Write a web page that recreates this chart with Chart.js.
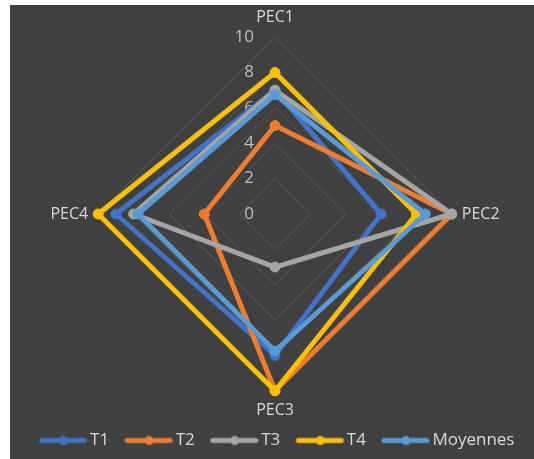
<!DOCTYPE html>
<html>
<head>
<meta charset="utf-8">
<script src="https://cdn.jsdelivr.net/npm/chart.js@4/dist/chart.umd.min.js"></script>
<style>
  html, body { margin: 0; padding: 0; background: #ffffff; }
  #wrap { position: absolute; left: 10px; top: 5px; width: 524px; height: 454px; background: #404040; }
  canvas { display: block; }
</style>
</head>
<body>
<div id="wrap"><canvas id="chart" width="524" height="454"></canvas></div>
<script>
// axes and series
var categories = ['PEC1', 'PEC2', 'PEC3', 'PEC4'];
var t1 = [7, 6, 8, 9];
var t2 = [5, 10, 10, 4];
var t3 = [7, 10, 3, 8];
var t4 = [8, 8, 10, 10];
var moyennes = [6.75, 8.5, 7.75, 7.75];
var tickValues = [0, 2, 4, 6, 8, 10];

var seriesNames = ['T1', 'T2', 'T3', 'T4', 'Moyennes'];
var seriesData = [t1, t2, t3, t4, moyennes];
var seriesColors = ['#4472C4', '#ED7D31', '#A5A5A5', '#FFC000', '#5B9BD5'];

var FONT = "'Open Sans', 'Liberation Sans', sans-serif";

// line + dot icon for the legend; wider than the legend box so the line
// sits close to its text and the spacing goes between the items
function legendIcon(color) {
    var c = document.createElement('canvas');
    c.width = 64;
    c.height = 12;
    var g = c.getContext('2d');
    g.strokeStyle = color;
    g.lineWidth = 5;
    g.lineCap = 'round';
    g.beginPath();
    g.moveTo(15, 6);
    g.lineTo(58, 6);
    g.stroke();
    g.fillStyle = color;
    g.beginPath();
    g.arc(37, 6, 4.5, 0, Math.PI * 2);
    g.fill();
    return c;
}

// Excel-style value labels to the left of the vertical axis, under the series
var tickLabelPlugin = {
    id: 'tickLabels',
    beforeDatasetsDraw: function (chart) {
        var scale = chart.scales.r;
        var ctx = chart.ctx;
        ctx.save();
        ctx.font = '17px ' + FONT;
        ctx.fillStyle = '#bfbfbf';
        ctx.textAlign = 'right';
        ctx.textBaseline = 'middle';
        tickValues.forEach(function (v) {
            var p = scale.getPointPositionForValue(0, v);
            ctx.fillText(String(v), p.x - 21, p.y);
        });
        ctx.restore();
    }
};

var datasets = seriesNames.map(function (name, i) {
    return {
        label: name,
        data: seriesData[i],
        borderColor: seriesColors[i],
        backgroundColor: seriesColors[i],
        pointBackgroundColor: seriesColors[i],
        pointBorderColor: seriesColors[i],
        borderWidth: 5,
        pointRadius: 5,
        pointBorderWidth: 1,
        borderJoinStyle: 'round',
        fill: false,
        order: seriesNames.length - i
    };
});

new Chart(document.getElementById('chart'), {
    type: 'radar',
    data: { labels: categories, datasets: datasets },
    options: {
        responsive: false,
        animation: false,
        layout: { padding: { top: 3, left: 10, right: 4, bottom: 0 } },
        scales: {
            r: {
                min: 0,
                max: 10,
                ticks: { display: false, stepSize: 2 },
                grid: { color: '#5a5a5a', lineWidth: 1, circular: false },
                angleLines: { display: false },
                pointLabels: {
                    color: '#d9d9d9',
                    padding: 10,
                    font: { family: FONT, size: 16 }
                }
            }
        },
        plugins: {
            tooltip: { enabled: false },
            legend: {
                position: 'bottom',
                labels: {
                    usePointStyle: true,
                    pointStyleWidth: 46,
                    padding: 12,
                    color: '#d9d9d9',
                    font: { family: FONT, size: 17 },
                    sort: function (a, b) { return a.datasetIndex - b.datasetIndex; },
                    generateLabels: function (chart) {
                        return chart.data.datasets.map(function (ds, i) {
                            return {
                                text: ds.label,
                                datasetIndex: i,
                                pointStyle: legendIcon(ds.borderColor),
                                fillStyle: ds.borderColor,
                                strokeStyle: ds.borderColor,
                                lineWidth: 0,
                                fontColor: '#d9d9d9',
                                hidden: false
                            };
                        });
                    }
                }
            }
        }
    },
    plugins: [tickLabelPlugin]
});
</script>
</body>
</html>
